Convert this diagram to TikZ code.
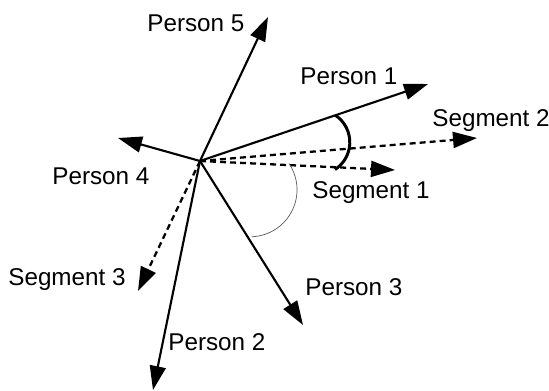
\documentclass[tikz,border=0pt]{standalone}
\usepackage{fontspec}
\setmainfont{Liberation Sans}
\usetikzlibrary{arrows.meta}

\begin{document}
\begin{tikzpicture}[
        vec/.style={line width=1.2pt, -{Triangle[length=4.8mm,width=3.2mm]}},
        seg/.style={vec, line width=1.3pt, dash pattern=on 3.4pt off 2.3pt},
        lbl/.style={anchor=base west, inner sep=0pt,
                    font=\fontsize{13.8}{16}\selectfont}
    ]
        \useasboundingbox (-4.0,-4.58) rectangle (6.98,3.22);

        \coordinate (o) at (0,0);
        \coordinate (p1) at (4.56,1.54);
        \coordinate (p2) at (-0.94,-4.58);
        \coordinate (p3) at (2.06,-3.28);
        \coordinate (p4) at (-1.64,0.46);
        \coordinate (p5) at (1.36,2.88);
        \coordinate (s1) at (3.90,-0.18);
        \coordinate (s2) at (5.54,0.46);
        \coordinate (s3) at (-1.24,-2.60);

        \node[lbl] (lp1) at (2.00,1.52) {Person 1};
        \node[lbl] (lp2) at (-0.64,-3.78) {Person 2};
        \node[lbl] (lp3) at (2.10,-2.68) {Person 3};
        \node[lbl] (lp4) at (-2.96,-0.48) {Person 4};
        \node[lbl] (lp5) at (-1.06,2.59) {Person 5};
        \node[lbl] (ls1) at (2.24,-0.74) {Segment 1};
        \node[lbl] (ls2) at (4.64,0.69) {Segment 2};
        \node[lbl] (ls3) at (-3.84,-2.48) {Segment 3};

        \draw[vec] (o) -- (p1);
        \draw[vec] (o) -- (p2);
        \draw[vec] (o) -- (p3);
        \draw[vec] (o) -- (p4);
        \draw[vec] (o) -- (p5);
        \draw[seg] (o) -- (s1);
        \draw[seg] (o) -- (s2);
        \draw[seg] (o) -- (s3);

        % angle marks
        \draw[line width=1.7pt] (2.70,0.92) arc[start angle=57,end angle=-57,radius=0.65];
        \draw[line width=0.4pt, gray!70!black] (1.78,-0.05) arc[start angle=34,end angle=-88,radius=0.94];
\end{tikzpicture}
\end{document}
